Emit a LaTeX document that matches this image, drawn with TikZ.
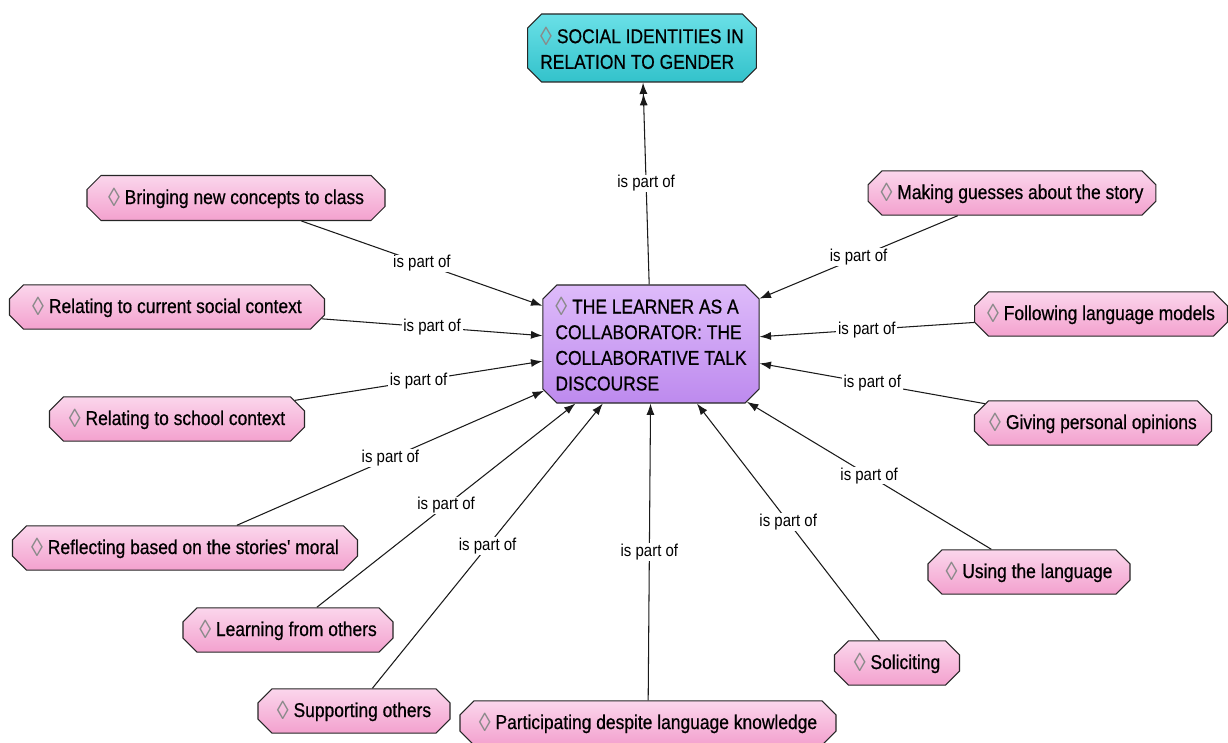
\documentclass[tikz,border=0pt]{standalone}
\usepackage{fontspec}
\setmainfont{Liberation Sans}[FakeStretch=0.87]
\newfontfamily\conceptfont{Liberation Sans}[FakeStretch=0.87, FakeBold=0.6]
\usetikzlibrary{shapes.misc,arrows.meta}

\definecolor{pinkT}{HTML}{FBD6EC}
\definecolor{pinkB}{HTML}{F3A1CE}
\definecolor{lilT}{HTML}{DEBBFA}
\definecolor{lilB}{HTML}{BD8AEE}
\definecolor{cyT}{HTML}{6AE0E7}
\definecolor{cyB}{HTML}{33C2CB}
\definecolor{diag}{HTML}{8A8A8A}
\definecolor{edgecol}{HTML}{1A1A1A}

% open lozenge that starts every concept label
\newcommand{\dia}{{\fontspec{Liberation Sans}[FakeStretch=1]\color{diag}\raisebox{-1.2pt}{\scalebox{1.2}[1.3]{\char"25CA}}}\ }

\tikzset{
  concept/.style={chamfered rectangle, chamfered rectangle xsep=0.11cm,
    chamfered rectangle ysep=0.17cm, draw=black!85, line width=0.6pt,
    font=\conceptfont\fontsize{11.4}{14.6}\selectfont, inner xsep=4pt, inner ysep=2pt,
    minimum height=43*0.02cm},
  pk/.style={concept, top color=pinkT, bottom color=pinkB},
  bw/.style={minimum width=#1*0.02cm},
  bh/.style={minimum height=#1*0.02cm},
  rel/.style={draw=edgecol, line width=0.6pt, -{Latex[length=6.5pt,width=4.6pt]}},
  lbl/.style={midway, fill=white, inner xsep=1pt, inner ysep=0.5pt,
    font=\fontsize{9.8}{11}\selectfont}
}

\begin{document}
\begin{tikzpicture}[x=0.02cm, y=-0.02cm]
\useasboundingbox[fill=white] (0,0) rectangle (1228,743);

% core concept and its parent category
\node[concept, top color=lilT, bottom color=lilB, bw=212, bh=118, align=left]
  (ctr) at (651,344)
  {\dia THE LEARNER AS A\\COLLABORATOR: THE\\COLLABORATIVE TALK\\DISCOURSE};
\node[concept, top color=cyT, bottom color=cyB, bw=221, bh=68, align=left]
  (top) at (642,48)
  {\dia SOCIAL IDENTITIES IN\\RELATION TO GENDER};

% sub-codes around the core
\node[pk, bw=298, bh=45] (bring)   at (236,198)  {\dia Bringing new concepts to class};
\node[pk, bw=286] (guess)          at (1012,193) {\dia Making guesses about the story};
\node[pk, bw=315, bh=44] (relcur)  at (167,307)  {\dia Relating to current social context};
\node[pk, bw=252] (follow)         at (1101,314) {\dia Following language models};
\node[pk, bw=255] (school)         at (177,419)  {\dia Relating to school context};
\node[pk, bw=237] (giving)         at (1093,423) {\dia Giving personal opinions};
\node[pk, bw=345, bh=44] (reflect) at (185,548)  {\dia Reflecting based on the stories' moral};
\node[pk, bw=202] (using)          at (1029,572) {\dia Using the language};
\node[pk, bw=210] (learn)          at (288,630)  {\dia Learning from others};
\node[pk, bw=125] (solicit)        at (897,663)  {\dia Soliciting};
\node[pk, bw=192] (support)        at (354,711)  {\dia Supporting others};
\node[pk, bw=376] (partic)         at (648,723)  {\dia Participating despite language knowledge};

% "is part of" relations
\draw[rel, -{Latex[length=6.5pt,width=4.6pt] Latex[length=6.5pt,width=4.6pt]}]
  (ctr) -- node[lbl] {is part of} (top);
\foreach \s in {bring, guess, relcur, follow, school, giving, reflect,
                using, learn, solicit, support, partic}
  \draw[rel] (\s) -- node[lbl] {is part of} (ctr);
\end{tikzpicture}
\end{document}
